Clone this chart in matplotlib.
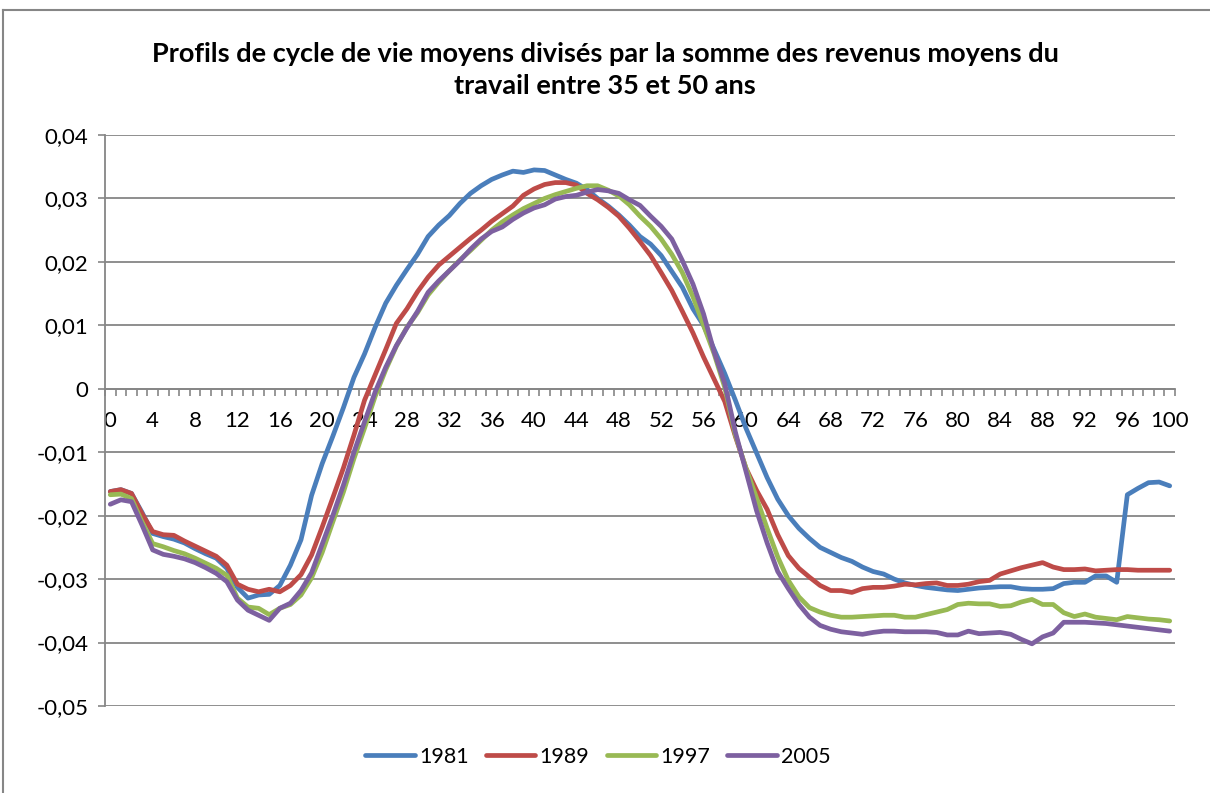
import numpy as np
import matplotlib.pyplot as plt
from matplotlib.lines import Line2D
from matplotlib.ticker import FuncFormatter, MultipleLocator

plt.rcParams['font.family'] = ['Lato', 'DejaVu Sans']

ages = list(range(0, 101))

# profils (fraction de la somme des revenus moyens du travail 35-50 ans)
p1981 = [-0.0162, -0.0159, -0.0165, -0.0195, -0.0228, -0.0233, -0.0237, -0.0243, -0.0252, -0.0260,
         -0.0267, -0.0283, -0.0313, -0.0330, -0.0325, -0.0324, -0.0310, -0.0278, -0.0238, -0.0168,
         -0.0118, -0.0075, -0.0030, 0.0018, 0.0055, 0.0097, 0.0135, 0.0163, 0.0188, 0.0212,
         0.0240, 0.0258, 0.0273, 0.0292, 0.0308, 0.0320, 0.0330, 0.0337, 0.0343, 0.0341,
         0.0345, 0.0344, 0.0337, 0.0330, 0.0324, 0.0314, 0.0300, 0.0288, 0.0274, 0.0258,
         0.0240, 0.0228, 0.0210, 0.0185, 0.0160, 0.0126, 0.0100, 0.0062, 0.0024, -0.0018,
         -0.0062, -0.0101, -0.0140, -0.0174, -0.0200, -0.0220, -0.0236, -0.0250, -0.0258, -0.0266,
         -0.0272, -0.0281, -0.0288, -0.0292, -0.0300, -0.0306, -0.0310, -0.0313, -0.0315, -0.0317,
         -0.0318, -0.0316, -0.0314, -0.0313, -0.0312, -0.0312, -0.0315, -0.0316, -0.0316, -0.0315,
         -0.0307, -0.0305, -0.0305, -0.0295, -0.0295, -0.0305, -0.0167, -0.0157, -0.0148, -0.0147,
         -0.0153]

p1989 = [-0.0162, -0.0159, -0.0165, -0.0197, -0.0225, -0.0230, -0.0231, -0.0240, -0.0248, -0.0256,
         -0.0264, -0.0278, -0.0308, -0.0316, -0.0320, -0.0316, -0.0320, -0.0310, -0.0293, -0.0262,
         -0.0218, -0.0172, -0.0125, -0.0073, -0.0018, 0.0022, 0.0062, 0.0103, 0.0126, 0.0153,
         0.0176, 0.0195, 0.0209, 0.0223, 0.0237, 0.0250, 0.0264, 0.0276, 0.0288, 0.0305,
         0.0315, 0.0322, 0.0325, 0.0325, 0.0321, 0.0308, 0.0298, 0.0286, 0.0272, 0.0253,
         0.0232, 0.0210, 0.0183, 0.0155, 0.0122, 0.0088, 0.0050, 0.0015, -0.0020, -0.0075,
         -0.0125, -0.0160, -0.0190, -0.0230, -0.0263, -0.0283, -0.0297, -0.0310, -0.0318, -0.0318,
         -0.0321, -0.0315, -0.0313, -0.0313, -0.0311, -0.0308, -0.0309, -0.0307, -0.0306, -0.0310,
         -0.0310, -0.0308, -0.0304, -0.0302, -0.0292, -0.0287, -0.0282, -0.0278, -0.0274, -0.0281,
         -0.0285, -0.0285, -0.0284, -0.0287, -0.0286, -0.0285, -0.0285, -0.0286, -0.0286, -0.0286,
         -0.0286]

p1997 = [-0.0167, -0.0166, -0.0173, -0.0210, -0.0244, -0.0249, -0.0255, -0.0260, -0.0267, -0.0275,
         -0.0283, -0.0294, -0.0330, -0.0344, -0.0346, -0.0356, -0.0346, -0.0340, -0.0325, -0.0298,
         -0.0258, -0.0210, -0.0163, -0.0110, -0.0062, -0.0012, 0.0030, 0.0067, 0.0097, 0.0120,
         0.0148, 0.0168, 0.0186, 0.0203, 0.0218, 0.0234, 0.0250, 0.0263, 0.0274, 0.0284,
         0.0292, 0.0300, 0.0306, 0.0311, 0.0316, 0.0320, 0.0320, 0.0313, 0.0304, 0.0290,
         0.0272, 0.0256, 0.0236, 0.0212, 0.0183, 0.0145, 0.0100, 0.0055, 0.0002, -0.0073,
         -0.0125, -0.0172, -0.0220, -0.0265, -0.0302, -0.0328, -0.0345, -0.0352, -0.0357, -0.0360,
         -0.0360, -0.0359, -0.0358, -0.0357, -0.0357, -0.0360, -0.0360, -0.0356, -0.0352, -0.0348,
         -0.0340, -0.0338, -0.0339, -0.0339, -0.0343, -0.0342, -0.0336, -0.0332, -0.0340, -0.0340,
         -0.0353, -0.0359, -0.0355, -0.0360, -0.0362, -0.0364, -0.0359, -0.0361, -0.0363, -0.0364,
         -0.0366]

p2005 = [-0.0182, -0.0175, -0.0178, -0.0215, -0.0254, -0.0261, -0.0264, -0.0268, -0.0274, -0.0282,
         -0.0291, -0.0304, -0.0333, -0.0349, -0.0357, -0.0365, -0.0346, -0.0338, -0.0318, -0.0290,
         -0.0245, -0.0200, -0.0152, -0.0100, -0.0052, -0.0005, 0.0034, 0.0068, 0.0096, 0.0122,
         0.0152, 0.0170, 0.0186, 0.0202, 0.0220, 0.0236, 0.0248, 0.0255, 0.0267, 0.0277,
         0.0285, 0.0290, 0.0299, 0.0303, 0.0305, 0.0310, 0.0314, 0.0312, 0.0308, 0.0298,
         0.0289, 0.0272, 0.0256, 0.0236, 0.0202, 0.0165, 0.0118, 0.0058, 0.0008, -0.0068,
         -0.0130, -0.0192, -0.0243, -0.0288, -0.0315, -0.0340, -0.0360, -0.0373, -0.0379, -0.0383,
         -0.0385, -0.0387, -0.0384, -0.0382, -0.0382, -0.0383, -0.0383, -0.0383, -0.0384, -0.0388,
         -0.0388, -0.0382, -0.0386, -0.0385, -0.0384, -0.0387, -0.0395, -0.0402, -0.0391, -0.0385,
         -0.0368, -0.0368, -0.0368, -0.0369, -0.0370, -0.0372, -0.0374, -0.0376, -0.0378, -0.0380,
         -0.0382]

series = [('1981', p1981, '#4A7EBB'),
          ('1989', p1989, '#BE4B48'),
          ('1997', p1997, '#98B954'),
          ('2005', p2005, '#7D60A0')]

titre = 'Profils de cycle de vie moyens divisés par la somme des revenus moyens du\ntravail entre 35 et 50 ans'

W, H = 1210, 793
fig = plt.figure(figsize=(W / 100, H / 100), dpi=100)
ax = fig.add_axes([105 / W, 1 - 706 / H, (1175 - 105) / W, (706 - 135) / H])

# cadre du graphique (haut et gauche visibles)
gray = '#868686'
fig.add_artist(Line2D([3 / W, 3 / W], [0, 1 - 10 / H], color=gray, lw=1.5, transform=fig.transFigure))
fig.add_artist(Line2D([3 / W, 1], [1 - 10 / H, 1 - 10 / H], color=gray, lw=1.5, transform=fig.transFigure))

for name, vals, col in series:
    ax.plot(ages, vals, color=col, lw=3.4, label=name, zorder=3, solid_capstyle='round')

ax.set_xlim(-0.5, 100.5)
ax.set_ylim(-0.05, 0.04)

ax.yaxis.set_major_locator(MultipleLocator(0.01))
ax.yaxis.set_major_formatter(FuncFormatter(
    lambda v, p: '0' if abs(v) < 1e-9 else f'{v:.2f}'.replace('.', ',')))
ax.grid(axis='y', color=gray, lw=1.3)
ax.set_axisbelow(True)

ax.set_xticks(range(0, 101, 4))
ax.xaxis.set_minor_locator(MultipleLocator(1, offset=0.5))
ax.tick_params(axis='x', which='major', length=0, pad=16, labelsize=16)
ax.tick_params(axis='x', which='minor', length=5, width=1.2, color=gray, direction='out')
ax.tick_params(axis='y', which='major', length=5, width=1.2, color=gray, pad=7, labelsize=16)

ax.spines['bottom'].set_position(('data', 0))
ax.spines['bottom'].set_color(gray)
ax.spines['bottom'].set_linewidth(1.3)
ax.spines['left'].set_color(gray)
ax.spines['left'].set_linewidth(1.3)
ax.spines['top'].set_visible(False)
ax.spines['right'].set_visible(False)

fig.text(0.5, 1 - 70 / H, titre, ha='center', va='center', fontsize=19.5,
         fontweight='bold', linespacing=1.45)

fig.legend(loc='center', bbox_to_anchor=(598 / W, 1 - 757 / H), ncol=4, frameon=False,
           fontsize=15.5, handlelength=2.3, handletextpad=0.2, columnspacing=0.8)

fig.savefig('out.png', dpi=100, facecolor='white')
